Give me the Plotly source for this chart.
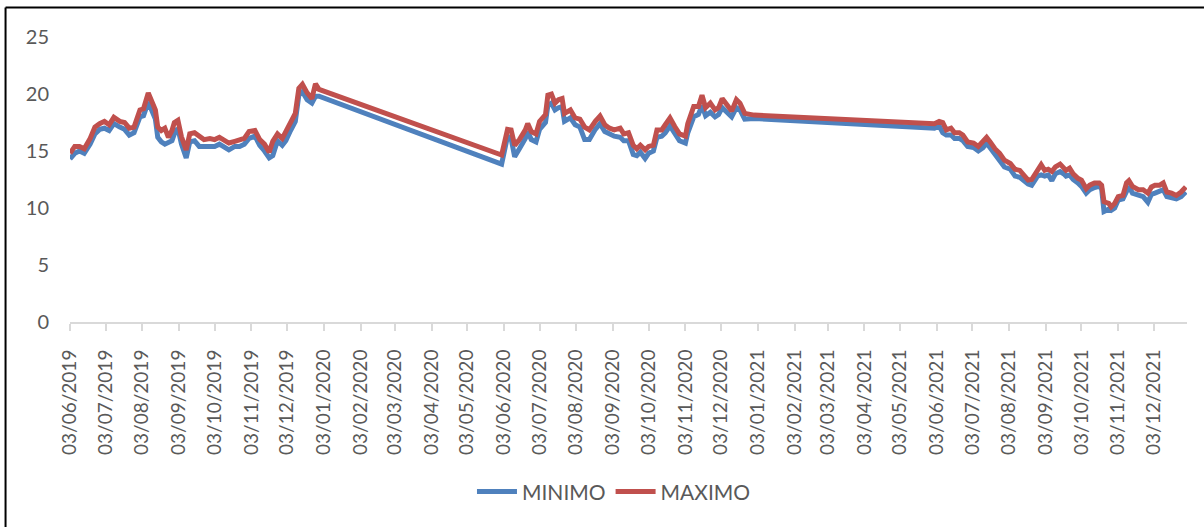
import plotly.graph_objects as go

# ---------------- data ----------------
dates = [
    # June-Dec 2019
    "2019-06-03", "2019-06-07", "2019-06-11", "2019-06-15", "2019-06-20", "2019-06-24", "2019-06-28",
    "2019-07-02", "2019-07-06", "2019-07-10", "2019-07-15", "2019-07-19", "2019-07-23", "2019-07-27",
    "2019-08-01", "2019-08-04", "2019-08-08", "2019-08-11", "2019-08-14", "2019-08-16", "2019-08-19",
    "2019-08-22", "2019-08-25", "2019-08-28", "2019-08-30", "2019-09-02", "2019-09-05", "2019-09-09",
    "2019-09-12", "2019-09-16", "2019-09-20", "2019-09-24", "2019-09-29", "2019-10-03", "2019-10-07",
    "2019-10-11", "2019-10-15", "2019-10-20", "2019-10-24", "2019-10-28", "2019-11-01", "2019-11-06",
    "2019-11-10", "2019-11-14", "2019-11-18", "2019-11-21", "2019-11-25", "2019-11-29", "2019-12-02",
    "2019-12-06", "2019-12-10", "2019-12-13", "2019-12-16", "2019-12-20", "2019-12-24", "2019-12-27",
    "2019-12-30",
    # June-Dec 2020
    "2020-06-01", "2020-06-04", "2020-06-06", "2020-06-09", "2020-06-12", "2020-06-16", "2020-06-21",
    "2020-06-23", "2020-06-26", "2020-06-30", "2020-07-03", "2020-07-08", "2020-07-10", "2020-07-13",
    "2020-07-16", "2020-07-19", "2020-07-22", "2020-07-24", "2020-07-29", "2020-08-02", "2020-08-06",
    "2020-08-10", "2020-08-14", "2020-08-19", "2020-08-23", "2020-08-27", "2020-08-31", "2020-09-04",
    "2020-09-09", "2020-09-12", "2020-09-16", "2020-09-20", "2020-09-23", "2020-09-26", "2020-09-30",
    "2020-10-03", "2020-10-07", "2020-10-10", "2020-10-14", "2020-10-17", "2020-10-21", "2020-10-25",
    "2020-10-29", "2020-11-03", "2020-11-05", "2020-11-10", "2020-11-14", "2020-11-17", "2020-11-20",
    "2020-11-24", "2020-11-28", "2020-12-01", "2020-12-04", "2020-12-08", "2020-12-12", "2020-12-16",
    "2020-12-19", "2020-12-23", "2020-12-27", "2020-12-31",
    # June-Dec 2021
    "2021-06-01", "2021-06-05", "2021-06-08", "2021-06-11", "2021-06-15", "2021-06-18", "2021-06-22",
    "2021-06-25", "2021-06-29", "2021-07-04", "2021-07-08", "2021-07-12", "2021-07-15", "2021-07-18",
    "2021-07-22", "2021-07-26", "2021-07-30", "2021-08-04", "2021-08-08", "2021-08-12", "2021-08-16",
    "2021-08-19", "2021-08-22", "2021-08-25", "2021-08-27", "2021-08-30", "2021-09-02", "2021-09-05",
    "2021-09-08", "2021-09-11", "2021-09-15", "2021-09-18", "2021-09-20", "2021-09-23", "2021-09-26",
    "2021-09-30", "2021-10-03", "2021-10-07", "2021-10-10", "2021-10-14", "2021-10-18", "2021-10-20",
    "2021-10-22", "2021-10-26", "2021-10-28", "2021-10-31", "2021-11-03", "2021-11-07", "2021-11-10",
    "2021-11-12", "2021-11-15", "2021-11-20", "2021-11-24", "2021-11-28", "2021-12-01", "2021-12-04",
    "2021-12-08", "2021-12-11", "2021-12-14", "2021-12-18", "2021-12-22", "2021-12-26", "2021-12-30",
]

maximo = [
    # 2019
    14.8, 15.4, 15.4, 15.2, 16.1, 17.1, 17.4,
    17.6, 17.3, 17.95, 17.6, 17.5, 17.0, 17.1,
    18.6, 18.7, 20.1, 19.2, 18.6, 17.1, 16.8,
    17.0, 16.2, 16.8, 17.5, 17.7, 16.25, 15.1,
    16.5, 16.6, 16.3, 16.0, 16.1, 16.0, 16.2,
    16.0, 15.7, 15.85, 16.0, 16.1, 16.7, 16.8,
    16.0, 15.6, 14.9, 15.85, 16.5, 16.1, 16.7,
    17.4, 18.3, 20.5, 20.85, 20.1, 19.6, 20.9,
    20.4,
    # 2020
    14.65, 16.25, 16.9, 16.85, 15.5, 16.0, 16.85,
    17.4, 16.7, 16.5, 17.6, 18.2, 19.9, 20.0,
    19.2, 19.5, 19.6, 18.3, 18.6, 17.9, 17.8,
    17.1, 16.85, 17.6, 18.07, 17.3, 17.0, 16.85,
    17.0, 16.5, 16.6, 15.5, 15.2, 15.5, 15.1,
    15.4, 15.5, 16.85, 16.85, 17.3, 17.9, 17.15,
    16.5, 16.3, 17.4, 18.9, 18.9, 19.9, 18.8,
    19.2, 18.6, 18.8, 19.6, 19.05, 18.5, 19.5,
    19.2, 18.3, 18.2, 18.15,
    # 2021
    17.4, 17.6, 17.5, 16.85, 17.0, 16.6, 16.6,
    16.4, 15.8, 15.7, 15.4, 15.8, 16.2, 15.8,
    15.2, 14.8, 14.2, 13.9, 13.4, 13.3, 12.9,
    12.45, 12.5, 13.0, 13.3, 13.8, 13.3, 13.4,
    13.2, 13.6, 13.85, 13.5, 13.3, 13.5, 13.0,
    12.6, 12.45, 11.7, 12.0, 12.2, 12.2, 12.0,
    10.55, 10.4, 10.1, 10.4, 11.0, 11.1, 12.2,
    12.4, 11.9, 11.6, 11.6, 11.3, 11.85, 12.0,
    12.0, 12.2, 11.4, 11.3, 11.1, 11.4, 11.85,
]

minimo = [
    # 2019
    14.3, 14.8, 15.0, 14.8, 15.6, 16.5, 16.9,
    17.0, 16.8, 17.4, 17.1, 16.9, 16.4, 16.6,
    18.0, 18.1, 19.3, 18.5, 17.8, 16.2, 15.8,
    15.6, 15.8, 15.9, 16.5, 17.0, 15.6, 14.4,
    15.8, 15.9, 15.4, 15.4, 15.5, 15.4, 15.6,
    15.4, 15.1, 15.4, 15.4, 15.6, 16.1, 16.3,
    15.5, 15.0, 14.4, 14.6, 15.9, 15.5, 15.9,
    16.8, 17.6, 19.9, 20.2, 19.5, 19.2, 19.8,
    19.8,
    # 2020
    13.85, 15.2, 16.3, 16.1, 14.5, 15.2, 16.1,
    16.7, 16.0, 15.8, 16.9, 17.5, 19.0, 19.2,
    18.6, 18.8, 18.9, 17.6, 17.9, 17.3, 17.1,
    16.0, 16.0, 16.9, 17.4, 16.7, 16.5, 16.3,
    16.2, 15.9, 15.9, 14.7, 14.6, 14.9, 14.35,
    14.8, 15.0, 16.2, 16.3, 16.6, 17.2, 16.6,
    15.9, 15.7, 16.6, 18.0, 18.2, 19.0, 18.1,
    18.4, 18.0, 18.2, 18.8, 18.4, 18.0, 18.8,
    18.6, 17.8, 17.8, 17.85,
    # 2021
    17.0, 17.2, 16.6, 16.4, 16.4, 16.1, 16.1,
    15.9, 15.4, 15.3, 15.0, 15.3, 15.7, 15.3,
    14.7, 14.3, 13.6, 13.4, 12.8, 12.7, 12.3,
    12.1, 12.0, 12.5, 12.8, 12.9, 12.8, 12.9,
    12.4, 13.0, 13.2, 13.0, 12.8, 12.9, 12.5,
    12.2, 11.9, 11.3, 11.6, 11.8, 11.9, 11.7,
    9.7, 9.9, 9.8, 10.0, 10.7, 10.8, 11.6,
    11.9, 11.3, 11.1, 11.0, 10.5, 11.2, 11.3,
    11.5, 11.6, 11.0, 10.9, 10.8, 11.0, 11.4,
]

series_names = ["MINIMO", "MAXIMO"]
series_colors = ["#4F81BD", "#C0504D"]

y_ticks = [0, 5, 10, 15, 20, 25]

# ---------------- figure ----------------
FONT = "Lato, 'Open Sans', sans-serif"
GREY = "#595959"

fig = go.Figure()
for name, vals, col in zip(series_names, [minimo, maximo], series_colors):
    fig.add_trace(go.Scatter(
        x=dates, y=vals, mode="lines", name=name,
        line=dict(color=col, width=5),
    ))

fig.update_layout(
    width=1204, height=527, autosize=False,
    margin=dict(l=70, r=17, t=37, b=205, pad=0),
    paper_bgcolor="white", plot_bgcolor="white",
    font=dict(family=FONT, size=20, color=GREY),
    showlegend=True,
    legend=dict(
        orientation="h", x=0.487, xanchor="center", y=-0.596, yanchor="middle",
        font=dict(family=FONT, size=21, color=GREY),
        itemwidth=40, bgcolor="rgba(0,0,0,0)", traceorder="normal",
    ),
)

fig.update_xaxes(
    type="date", range=["2019-06-03", "2021-12-31"],
    tick0="2019-06-03", dtick="M1", tickformat="%d/%m/%Y", tickangle=-90,
    showgrid=False, zeroline=False,
    showline=True, linecolor="#D9D9D9", linewidth=2,
    ticks="outside", ticklen=7, tickcolor="#D9D9D9", tickwidth=2,
    tickfont=dict(family=FONT, size=19, color=GREY),
    ticklabelstandoff=11,
)
fig.update_yaxes(
    range=[0, 25], tickvals=y_ticks,
    showgrid=False, zeroline=False, showline=False,
    tickfont=dict(family=FONT, size=20, color=GREY),
    ticklabelstandoff=20,
)

# chart-area border: only the top and left edges are visible in the reference
fig.add_shape(
    type="line", xref="paper", yref="paper",
    x0=-0.0577, x1=1.0152, y0=1.1035, y1=1.1035,
    line=dict(color="black", width=2), layer="below",
)
fig.add_shape(
    type="line", xref="paper", yref="paper",
    x0=-0.0577, x1=-0.0577, y0=1.1035, y1=-0.7193,
    line=dict(color="black", width=2), layer="below",
)

fig.write_html("out.html")
